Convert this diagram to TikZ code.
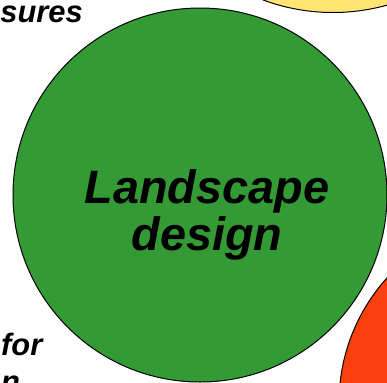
\documentclass[tikz,border=0pt]{standalone}
\usepackage{fontspec}
\setmainfont{Liberation Sans}

\definecolor{leafgreen}{RGB}{51,154,53}
\definecolor{sunyellow}{RGB}{254,229,116}
\definecolor{firered}{RGB}{250,64,12}

\tikzset{
  disc/.style={circle, draw=black, line width=1bp, inner sep=0pt, minimum size=#1},
  bigtext/.style={font=\fontsize{47}{47}\selectfont\bfseries\itshape, align=center, inner sep=0pt},
  sidetext/.style={font=\fontsize{31}{37}\selectfont\bfseries\itshape, inner sep=0pt}
}

\begin{document}
\begin{tikzpicture}[x=1bp, y=-1bp]
    \useasboundingbox (0,0) rectangle (387,383);
    \clip (0,0) rectangle (387,383);

    \node[disc=400bp, fill=sunyellow] (upper) at (333,-187.5) {};
    \node[disc=374bp, fill=firered] (lower) at (526,403) {};
    \node[disc=374bp, fill=leafgreen] (design) at (200,195) {};

    \node[bigtext] (designtxt) at (207,214.5) {Landscape\\design};

    \node[sidetext, anchor=base east] (measures) at (83,22) {sures};
    \node[sidetext, anchor=base west, align=left] (fortxt) at (1,392) {for\\n};
  \end{tikzpicture}
\end{document}
